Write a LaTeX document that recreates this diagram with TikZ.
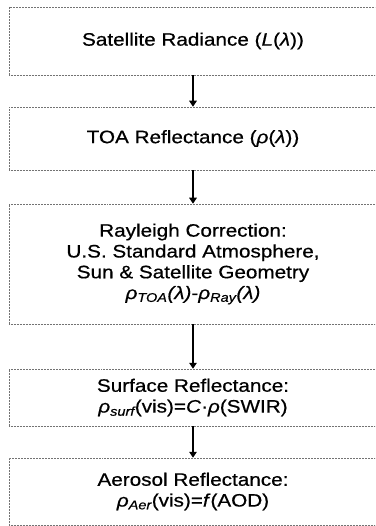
\documentclass[tikz,border=0pt]{standalone}
\usepackage{fontspec}
\setmainfont{Liberation Sans}[FakeStretch=1.15,FakeBold=0.6]
\usetikzlibrary{arrows.meta}

\tikzset{
  stagebox/.style={draw=black!55, densely dotted, line width=0.5pt,
    rectangle, minimum width=368pt, align=center, inner sep=0pt,
    font=\fontsize{18}{20.8}\selectfont},
  flowarrow/.style={line width=2.4pt, -{Triangle[width=7.5pt,length=6pt]}}
}

\begin{document}
\begin{tikzpicture}[x=1pt,y=-1pt]
  \useasboundingbox (0,0) rectangle (375,526);
  \clip (0,0) rectangle (375,526);

  \node[stagebox, minimum height=68pt] (b1) at (193,41)
    {Satellite Radiance (\textit{L}(\textit{λ}))};
  \node[stagebox, minimum height=63pt] (b2) at (193,138.5)
    {TOA Reflectance (\textit{ρ}(\textit{λ}))};
  \node[stagebox, minimum height=120pt] (b3) at (193,264)
    {Rayleigh Correction:\\
     U.S. Standard Atmosphere,\\
     Sun \& Satellite Geometry\\
     \textit{ρ\textsubscript{TOA}(λ)}-\textit{ρ\textsubscript{Ray}(λ)}};
  \node[stagebox, minimum height=57pt] (b4) at (193,397.5)
    {Surface Reflectance:\\
     \textit{ρ\textsubscript{surf}}(vis)=\textit{C}·\textit{ρ}(SWIR)};
  \node[stagebox, minimum height=67pt] (b5) at (193,491.5)
    {Aerosol Reflectance:\\
     \textit{ρ\textsubscript{Aer}}(vis)=\textit{f}(AOD)};

  \draw[flowarrow] (b1.south) -- (b2.north);
  \draw[flowarrow] (b2.south) -- (b3.north);
  \draw[flowarrow] (b3.south) -- (b4.north);
  \draw[flowarrow] (b4.south) -- (b5.north);
\end{tikzpicture}
\end{document}
